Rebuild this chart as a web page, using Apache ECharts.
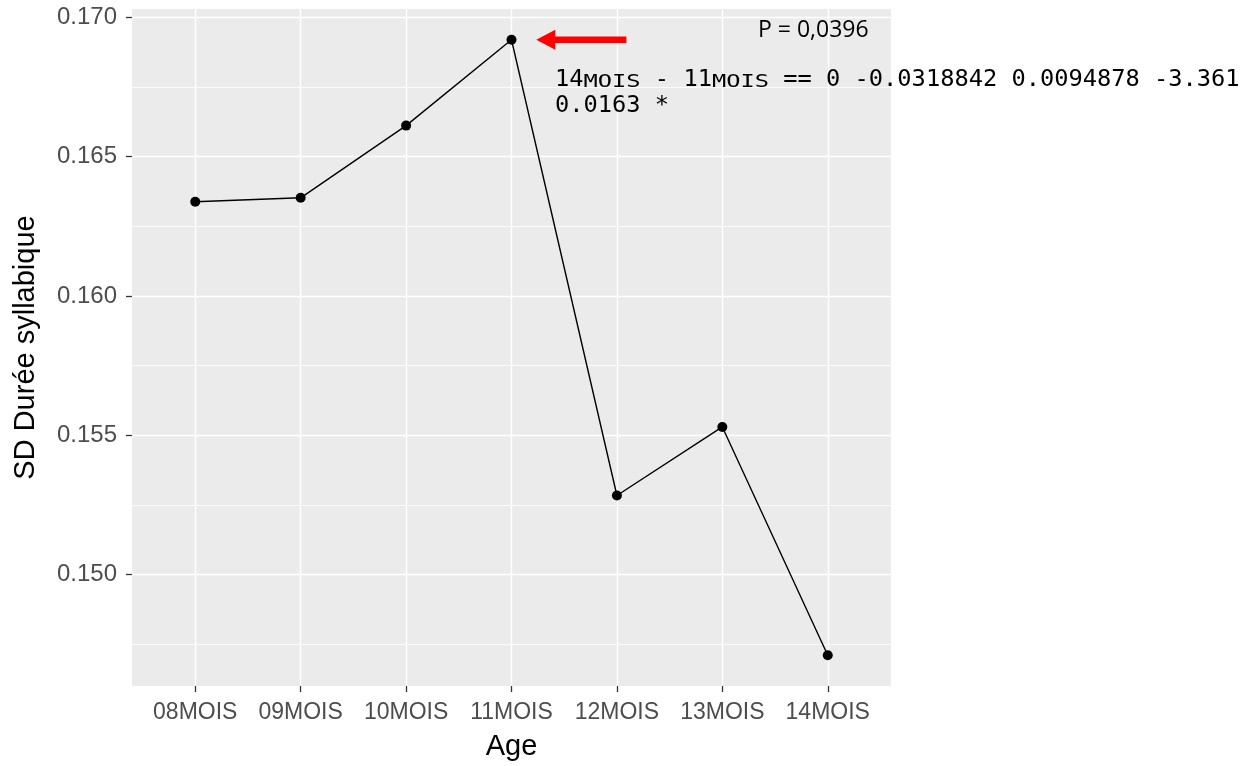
<!DOCTYPE html>
<html>
<head>
<meta charset="utf-8">
<script src="https://cdn.jsdelivr.net/npm/echarts@6/dist/echarts.min.js"></script>
<style>
  html, body { margin: 0; padding: 0; background: #ffffff; }
  #chart { width: 1247px; height: 766px; }
</style>
</head>
<body>
<div id="chart"></div>
<script>
// Age groups and the standard deviation of syllable duration at each age
const categories = ['08MOIS', '09MOIS', '10MOIS', '11MOIS', '12MOIS', '13MOIS', '14MOIS'];
const sdValues = [0.16338, 0.16352, 0.16611, 0.16919, 0.15284, 0.15530, 0.14711];

// Axis ticks (major labelled lines and the unlabelled minor lines between them)
const yTicks = [0.150, 0.155, 0.160, 0.165, 0.170];
const yMinorTicks = [0.1475, 0.1525, 0.1575, 0.1625, 0.1675];
const xTicks = [0, 1, 2, 3, 4, 5, 6];

// Annotation texts; the "MOIS" pieces of the contrast line are set in small capitals
const pText = 'P = 0,0396';
const contrastParts = ['14', 'MOIS', ' - 11', 'MOIS', ' == 0 -0.0318842 0.0094878 -3.361'];
const contrastLine2 = '0.0163 *';

// Arrow pointing at the 11MOIS peak: [tail x, tip x, y] in axis units
const arrowData = [[4.09, 3.235, sdValues[3]]];

// ggplot-style padding: 5% of the data span on y, 0.6 of a category on x
const dMin = Math.min(...sdValues), dMax = Math.max(...sdValues);
const pad = (dMax - dMin) * 0.05;
const yMin = dMin - pad, yMax = dMax + pad;

const sans = '"Liberation Sans", Arial, sans-serif';
const mono = '"DejaVu Sans Mono", monospace';
const monoSize = 23.7;
const scSize = 18.5;
const monoAdvance = monoSize * 0.602;
const textLeft = 555;
const line1Base = 88.3;

// Lay the contrast line out piece by piece on the monospace grid
const contrastGraphics = [];
let col = 0;
contrastParts.forEach((part, i) => {
  const small = i % 2 === 1;
  const size = small ? scSize : monoSize;
  contrastGraphics.push({
    type: 'text',
    x: textLeft + col * monoAdvance,
    y: line1Base - 0.35 * size,
    scaleX: small ? monoAdvance / (scSize * 0.602) : 1,
    z: 10,
    style: { text: part, fontFamily: mono, fontSize: size, fill: '#000000', align: 'left', verticalAlign: 'middle' }
  });
  col += part.length;
});

const chart = echarts.init(document.getElementById('chart'));

chart.setOption({
  animation: false,
  backgroundColor: '#ffffff',
  grid: {
    left: 132, right: 356, top: 9, bottom: 80,
    show: true, backgroundColor: '#EBEBEB', borderWidth: 0
  },
  xAxis: {
    type: 'value',
    min: -0.6, max: 6.6,
    name: 'Age',
    nameLocation: 'middle',
    nameGap: 46,
    nameTextStyle: { fontFamily: sans, fontSize: 29, color: '#000000' },
    axisLine: { show: false, onZero: false },
    axisTick: { show: true, length: 6, customValues: xTicks, lineStyle: { color: '#333333', width: 1.3 } },
    axisLabel: {
      customValues: xTicks,
      margin: 15,
      fontFamily: sans, fontSize: 23, color: '#4D4D4D',
      formatter: v => categories[Math.round(v)]
    },
    splitLine: { show: true, lineStyle: { color: '#FFFFFF', width: 1.4 } }
  },
  yAxis: [
    {
      type: 'value',
      min: yMin, max: yMax,
      name: 'SD Durée syllabique',
      nameLocation: 'middle',
      nameGap: 92,
      nameTextStyle: { fontFamily: sans, fontSize: 29, color: '#000000' },
      axisLine: { show: false, onZero: false },
      axisTick: { show: true, length: 6, customValues: yTicks, lineStyle: { color: '#333333', width: 1.3 } },
      axisLabel: {
        customValues: yTicks,
        margin: 15,
        fontFamily: sans, fontSize: 24, color: '#4D4D4D',
        formatter: v => v.toFixed(3)
      },
      splitLine: { show: true, lineStyle: { color: '#FFFFFF', width: 1.4 } }
    },
    {
      type: 'value',
      min: yMin, max: yMax,
      position: 'left',
      axisLine: { show: false, onZero: false },
      axisTick: { show: false, customValues: yMinorTicks },
      axisLabel: { show: false, customValues: yMinorTicks },
      splitLine: { show: true, lineStyle: { color: '#FFFFFF', width: 0.8 } }
    }
  ],
  series: [
    {
      type: 'line',
      data: sdValues.map((v, i) => [i, v]),
      lineStyle: { color: '#000000', width: 1.4 },
      itemStyle: { color: '#000000' },
      symbol: 'circle',
      symbolSize: 10,
      showSymbol: true,
      z: 3
    },
    {
      type: 'custom',
      data: arrowData,
      encode: { x: [0, 1], y: 2 },
      clip: false,
      z: 4,
      renderItem: function (params, api) {
        const tail = api.coord([api.value(0), api.value(2)]);
        const tip = api.coord([api.value(1), api.value(2)]);
        const headLen = 19, headHalf = 10;
        const baseX = tip[0] + headLen;
        return {
          type: 'group',
          children: [
            { type: 'line', shape: { x1: tail[0], y1: tail[1], x2: baseX - 1, y2: tip[1] },
              style: { stroke: '#FF0000', lineWidth: 6.5 } },
            { type: 'polygon', shape: { points: [[tip[0], tip[1]], [baseX, tip[1] - headHalf], [baseX, tip[1] + headHalf]] },
              style: { fill: '#FF0000' } }
          ]
        };
      }
    }
  ],
  graphic: [
    {
      type: 'text', x: 758, y: 30, z: 10,
      style: { text: pText, fontFamily: '"Open Sans", sans-serif', fontSize: 23, fill: '#000000', align: 'left', verticalAlign: 'middle' }
    },
    ...contrastGraphics,
    {
      type: 'text', x: textLeft, y: 106, z: 10,
      style: { text: contrastLine2, fontFamily: mono, fontSize: monoSize, fill: '#000000', align: 'left', verticalAlign: 'middle' }
    }
  ]
});
</script>
</body>
</html>
